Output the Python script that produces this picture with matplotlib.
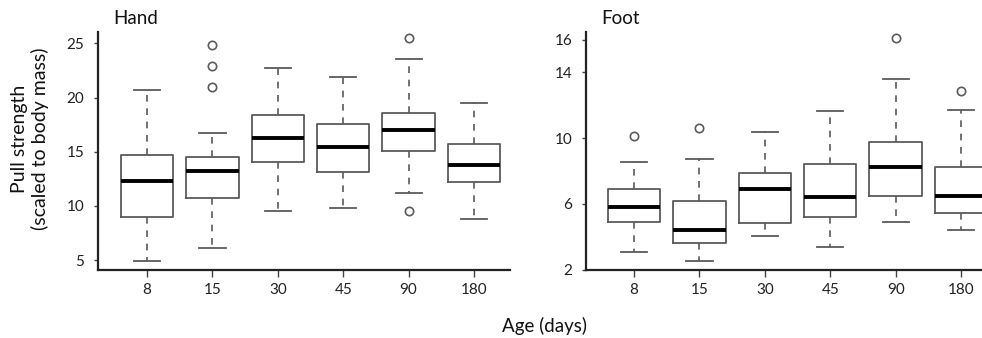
import matplotlib
matplotlib.use("Agg")
import matplotlib.pyplot as plt

plt.rcParams["font.family"] = ["Lato", "DejaVu Sans"]

# --- data ---
ages = ["8", "15", "30", "45", "90", "180"]

hand_low = [4.95, 6.1, 9.5, 9.8, 11.15, 8.8]
hand_q1 = [9.0, 10.7, 14.1, 13.15, 15.1, 12.2]
hand_med = [12.3, 13.2, 16.3, 15.4, 17.0, 13.8]
hand_q3 = [14.7, 14.5, 18.4, 17.6, 18.6, 15.7]
hand_high = [20.7, 16.7, 22.7, 21.9, 23.6, 19.5]
hand_out = [[], [24.85, 22.9, 21.0], [], [], [25.55, 9.55], []]

foot_low = [3.07, 2.55, 4.06, 3.37, 4.91, 4.40]
foot_q1 = [4.89, 3.64, 4.87, 5.23, 6.48, 5.43]
foot_med = [5.84, 4.44, 6.89, 6.40, 8.24, 6.48]
foot_q3 = [6.93, 6.18, 7.86, 8.42, 9.74, 8.22]
foot_high = [8.53, 8.73, 10.4, 11.64, 13.6, 11.70]
foot_out = [[10.14], [10.63], [], [], [16.1], [12.87]]

hand_ticks = [5, 10, 15, 20, 25]
foot_ticks = [2, 6, 10, 14, 16]


def make_stats(low, q1, med, q3, high, out):
    stats = []
    for i in range(len(ages)):
        stats.append(dict(whislo=low[i], q1=q1[i], med=med[i], q3=q3[i],
                          whishi=high[i], fliers=out[i], label=ages[i]))
    return stats


def draw_panel(ax, stats, ticks, ylim, xlim):
    gray = "#5a5a5a"
    ax.bxp(stats, positions=range(1, len(ages) + 1), widths=0.8,
           showfliers=True,
           boxprops=dict(color=gray, lw=1.3),
           medianprops=dict(color="black", lw=2.8, solid_capstyle="butt"),
           whiskerprops=dict(color=gray, lw=1.2, ls=(0, (4, 4))),
           capprops=dict(color=gray, lw=1.3),
           capwidths=0.4,
           flierprops=dict(marker="o", markerfacecolor="none",
                           markeredgecolor=gray, markersize=6, markeredgewidth=1.2))
    ax.set_xlim(*xlim)
    ax.set_ylim(*ylim)
    ax.set_yticks(ticks)
    ax.set_xticks(range(1, len(ages) + 1))
    ax.set_xticklabels(ages)
    for s in ["top", "right"]:
        ax.spines[s].set_visible(False)
    for s in ["left", "bottom"]:
        ax.spines[s].set_linewidth(1.6)
        ax.spines[s].set_color("#222222")
    ax.tick_params(axis="both", labelsize=11, color="#444444", width=1.0,
                   labelcolor="#222222")
    ax.tick_params(axis="y", length=3, pad=7)
    ax.tick_params(axis="x", length=5, pad=4)


fig = plt.figure(figsize=(9.82, 3.38), dpi=100)
ax1 = fig.add_axes([0.0998, 0.201, 0.4195, 0.704])
ax2 = fig.add_axes([0.597, 0.201, 0.403, 0.704])

draw_panel(ax1, make_stats(hand_low, hand_q1, hand_med, hand_q3, hand_high, hand_out),
           hand_ticks, (4.08, 26.05), (0.25, 6.55))
draw_panel(ax2, make_stats(foot_low, foot_q1, foot_med, foot_q3, foot_high, foot_out),
           foot_ticks, (1.98, 16.45), (0.27, 6.32))

fig.text(113 / 982, 1 - 18 / 338, "Hand", fontsize=13.5, va="center", color="#111111")
fig.text(601 / 982, 1 - 18 / 338, "Foot", fontsize=13.5, va="center", color="#111111")
fig.text(30 / 982, 0.59, "Pull strength\n(scaled to body mass)", rotation=90,
         fontsize=14, ha="center", va="center", color="#111111", linespacing=1.15)
fig.text(545 / 982, 1 - 326 / 338, "Age (days)", fontsize=13.5, ha="center",
         va="center", color="#111111")

fig.savefig("out.png", dpi=100)
